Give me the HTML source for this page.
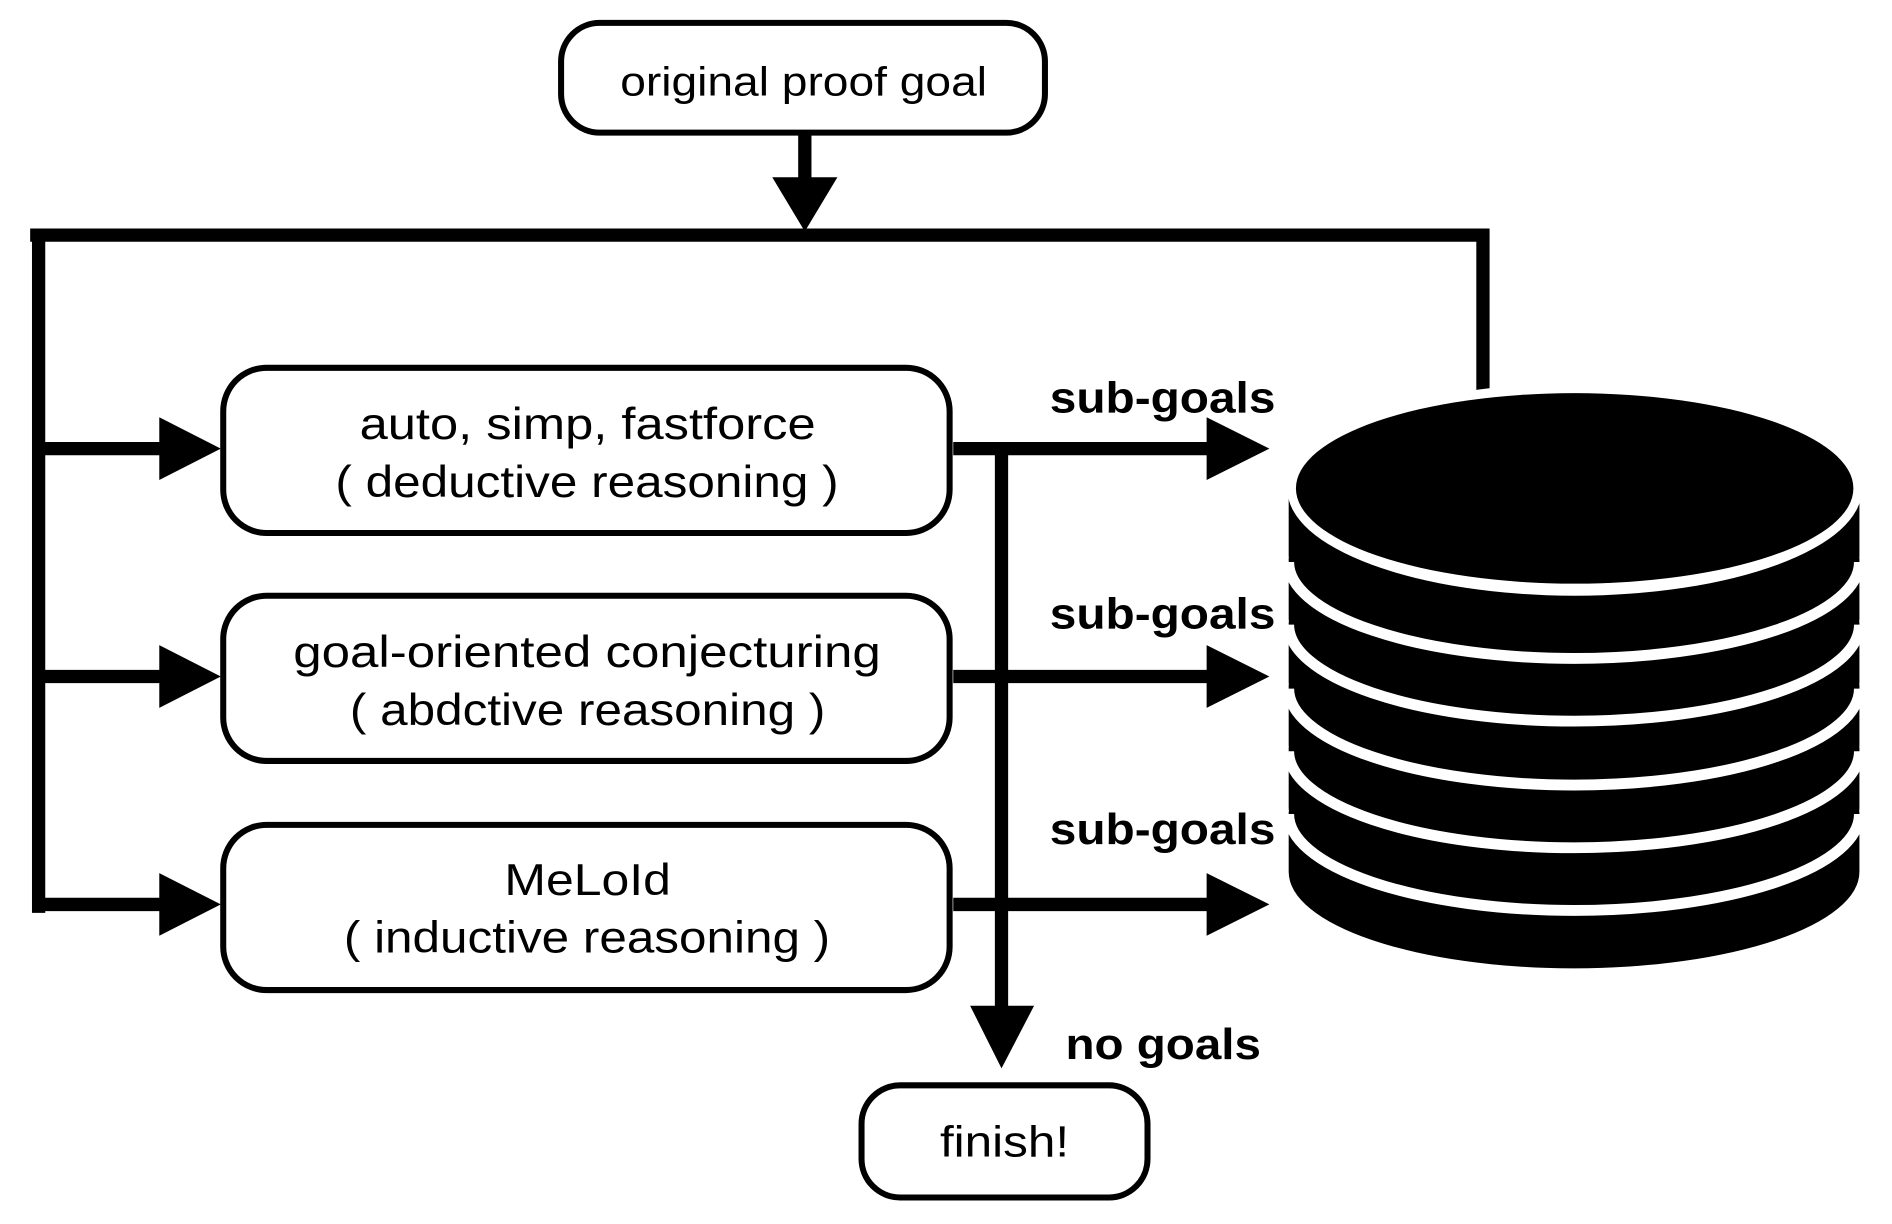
<!DOCTYPE html>
<html><head><meta charset="utf-8"><style>
html,body{margin:0;padding:0;background:#fff;}
svg{display:block;}
text{font-family:"Liberation Sans",Arial,sans-serif;fill:#000;}
</style></head><body>
<svg width="1892" height="1224" viewBox="0 0 1568 1015" preserveAspectRatio="none" xmlns="http://www.w3.org/2000/svg">
<!-- top box -->
<rect x="465" y="19" width="401" height="91" rx="32" fill="#fff" stroke="#000" stroke-width="5"/>
<text x="514" y="79" font-size="34" textLength="304" lengthAdjust="spacingAndGlyphs">original proof goal</text>
<line x1="667" y1="112" x2="667" y2="152" stroke="#000" stroke-width="11"/>
<polygon points="640,147 694,147 667,192" fill="#000"/>
<!-- frame -->
<polyline points="25,195 1229,195 1229,335" fill="none" stroke="#000" stroke-width="11"/>
<line x1="32" y1="190" x2="32" y2="757" stroke="#000" stroke-width="11"/>
<!-- left arrows -->
<g stroke="#000" stroke-width="11">
<line x1="32" y1="372" x2="140" y2="372"/>
<line x1="32" y1="561" x2="140" y2="561"/>
<line x1="32" y1="750" x2="140" y2="750"/>
</g>
<polygon points="132,346 183,372 132,398" fill="#000"/>
<polygon points="132,535 183,561 132,587" fill="#000"/>
<polygon points="132,724 183,750 132,776" fill="#000"/>
<!-- boxes -->
<rect x="185" y="305" width="602" height="137" rx="36" fill="#fff" stroke="#000" stroke-width="5"/>
<rect x="185" y="494" width="602" height="137" rx="36" fill="#fff" stroke="#000" stroke-width="5"/>
<rect x="185" y="684" width="602" height="137" rx="36" fill="#fff" stroke="#000" stroke-width="5"/>
<g font-size="37" lengthAdjust="spacingAndGlyphs">
<text x="298" y="364" textLength="378" lengthAdjust="spacingAndGlyphs">auto, simp, fastforce</text>
<text x="278" y="412" textLength="417" lengthAdjust="spacingAndGlyphs">( deductive reasoning )</text>
<text x="243" y="553" textLength="487" lengthAdjust="spacingAndGlyphs">goal-oriented conjecturing</text>
<text x="290" y="601" textLength="394" lengthAdjust="spacingAndGlyphs">( abdctive reasoning )</text>
<text x="418" y="742" textLength="138" lengthAdjust="spacingAndGlyphs">MeLoId</text>
<text x="285" y="790" textLength="403" lengthAdjust="spacingAndGlyphs">( inductive reasoning )</text>
</g>
<!-- right arrows -->
<g stroke="#000" stroke-width="11">
<line x1="790" y1="372" x2="1005" y2="372"/>
<line x1="790" y1="561" x2="1005" y2="561"/>
<line x1="790" y1="750" x2="1005" y2="750"/>
<line x1="830" y1="367" x2="830" y2="842"/>
</g>
<polygon points="1000,346 1052,372 1000,398" fill="#000"/>
<polygon points="1000,535 1052,561 1000,587" fill="#000"/>
<polygon points="1000,724 1052,750 1000,776" fill="#000"/>
<polygon points="804,834 857,834 830,886" fill="#000"/>
<g font-size="36" font-weight="bold">
<text x="870" y="342" textLength="187" lengthAdjust="spacingAndGlyphs">sub-goals</text>
<text x="870" y="521" textLength="187" lengthAdjust="spacingAndGlyphs">sub-goals</text>
<text x="870" y="700" textLength="187" lengthAdjust="spacingAndGlyphs">sub-goals</text>
<text x="883" y="878" textLength="162" lengthAdjust="spacingAndGlyphs">no goals</text>
</g>
<!-- finish -->
<rect x="714" y="900" width="237" height="93" rx="32" fill="#fff" stroke="#000" stroke-width="5"/>
<text x="779" y="959" font-size="36" textLength="107" lengthAdjust="spacingAndGlyphs">finish!</text>
<!-- database -->
<g>
<path d="M1068,673 L1068,723 A236.5,80 0 0 0 1541,723 L1541,673 Z" fill="#000"/>
<path d="M1068,620 L1068,670 A236.5,80 0 0 0 1541,670 L1541,620 Z" fill="#000"/>
<path d="M1068,675 A236.5,80 0 0 0 1541,675" fill="none" stroke="#fff" stroke-width="9"/>
<path d="M1068,568 L1068,618 A236.5,80 0 0 0 1541,618 L1541,568 Z" fill="#000"/>
<path d="M1068,623 A236.5,80 0 0 0 1541,623" fill="none" stroke="#fff" stroke-width="9"/>
<path d="M1068,516 L1068,566 A236.5,80 0 0 0 1541,566 L1541,516 Z" fill="#000"/>
<path d="M1068,571 A236.5,80 0 0 0 1541,571" fill="none" stroke="#fff" stroke-width="9"/>
<path d="M1068,463 L1068,513 A236.5,80 0 0 0 1541,513 L1541,463 Z" fill="#000"/>
<path d="M1068,518 A236.5,80 0 0 0 1541,518" fill="none" stroke="#fff" stroke-width="9"/>
<path d="M1068,411 L1068,461 A236.5,80 0 0 0 1541,461 L1541,411 Z" fill="#000"/>
<path d="M1068,466 A236.5,80 0 0 0 1541,466" fill="none" stroke="#fff" stroke-width="9"/>
<ellipse cx="1305" cy="406" rx="238" ry="88" fill="#fff"/>
<ellipse cx="1305" cy="405" rx="231" ry="79" fill="#000"/>
</g>
</svg>
</body></html>
